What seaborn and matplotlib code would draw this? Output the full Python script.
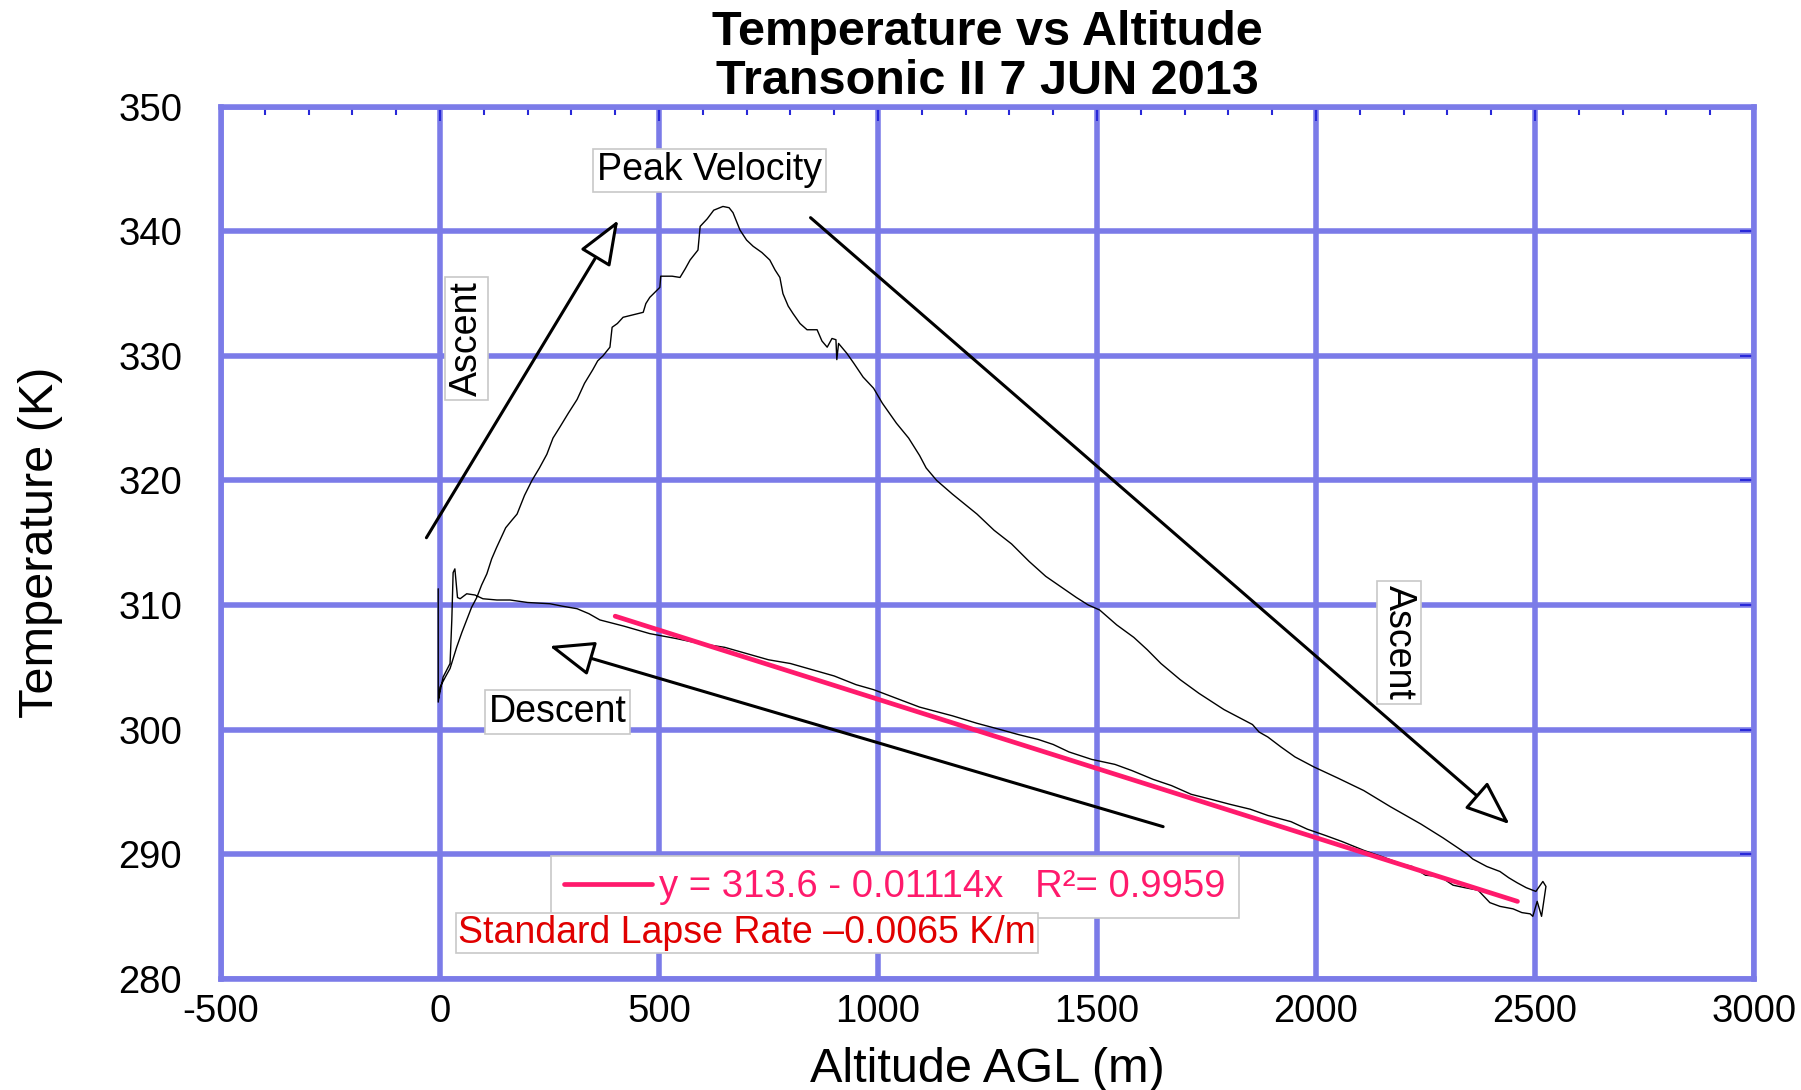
import numpy as np
import pandas as pd
import seaborn as sns
import matplotlib
matplotlib.use('Agg')
import matplotlib.pyplot as plt
from matplotlib.ticker import MultipleLocator, NullLocator

# flight trace: ascent, peak, climb to apogee, then descent
alt = [-4, -4, 0, 12, 23, 38, 50, 61, 72, 84, 95, 107, 118, 129, 150, 164, 176, 193,
       210, 227, 244, 258, 274, 293, 313, 330, 349, 360, 372, 388, 393, 405, 418, 441,
       464, 470, 479, 502, 504, 530, 548, 560, 571, 589, 594, 610, 625, 646, 660, 669,
       685, 700, 715, 735, 753, 765, 776, 783, 795, 806, 822, 838, 861, 872, 884, 895,
       904, 906, 910, 929, 945, 966, 990, 1010, 1042, 1070, 1095, 1110, 1134, 1170,
       1226, 1265, 1305, 1345, 1383, 1420, 1453, 1480, 1506, 1545, 1584, 1615, 1646,
       1690, 1733, 1790, 1855, 1870, 1890, 1920, 1952, 1995, 2050, 2109, 2170, 2240,
       2290, 2345, 2358, 2390, 2420, 2440, 2459, 2480, 2502, 2518, 2525, 2515, 2505,
       2495, 2489,
       2470, 2450, 2420, 2397, 2370, 2340, 2313, 2283, 2250, 2220, 2196, 2150, 2109,
       2060, 2021, 1980, 1943, 1890, 1850, 1803, 1760, 1715, 1670, 1628, 1580, 1541,
       1488, 1436, 1400, 1366, 1320, 1279, 1226, 1170, 1095, 1050, 990, 950, 900, 850,
       800, 750, 700, 650, 594, 540, 479, 420, 365, 340, 313, 280, 251, 200, 160, 130,
       98, 80, 61, 46, 40, 34, 30, 27, 23, 7, -3]
temp = [311.3, 302.2, 303.4, 304.2, 304.9, 306.6, 307.8, 308.8, 309.8, 310.6, 311.6,
        312.5, 313.7, 314.6, 316.2, 316.8, 317.3, 318.8, 320.0, 321.0, 322.1, 323.4,
        324.3, 325.4, 326.5, 327.8, 328.9, 329.6, 330.0, 330.7, 332.3, 332.6, 333.1,
        333.3, 333.5, 334.2, 334.7, 335.5, 336.4, 336.4, 336.3, 337.0, 337.7, 338.5,
        340.4, 341.0, 341.7, 342.0, 341.9, 341.5, 340.1, 339.3, 338.8, 338.3, 337.7,
        336.9, 336.3, 335.0, 334.0, 333.4, 332.6, 332.1, 332.1, 331.2, 330.7, 331.4,
        331.3, 329.7, 331.0, 330.2, 329.4, 328.3, 327.4, 326.2, 324.6, 323.4, 322.0,
        321.0, 320.0, 318.9, 317.3, 316.0, 314.9, 313.5, 312.3, 311.4, 310.6, 310.0,
        309.6, 308.4, 307.4, 306.4, 305.3, 304.0, 302.9, 301.6, 300.4, 299.8, 299.4,
        298.6, 297.8, 297.0, 296.1, 295.1, 293.8, 292.4, 291.3, 290.0, 289.6, 289.0,
        288.6, 288.1, 287.7, 287.3, 287.0, 287.8, 287.4, 285.0, 286.2, 285.0, 285.2,
        285.3, 285.6, 285.8, 286.1, 287.1, 287.3, 287.5, 288.2, 288.3, 289.0, 289.2,
        289.8, 290.3, 291.0, 291.5, 292.0, 292.6, 293.1, 293.6, 294.0, 294.4, 294.8,
        295.5, 296.0, 296.7, 297.2, 297.6, 298.2, 298.8, 299.2, 299.6, 300.0, 300.5,
        301.1, 301.8, 302.4, 303.2, 303.6, 304.3, 304.8, 305.3, 305.6, 306.1, 306.6,
        306.9, 307.3, 307.7, 308.3, 308.8, 309.3, 309.7, 309.9, 310.1, 310.2, 310.4,
        310.4, 310.5, 310.8, 310.9, 310.5, 310.6, 312.9, 312.6, 308.8, 305.3, 304.2,
        302.5]

# descent fit line ends
fit_alt = [400, 2460]
fit_temp = [309.1, 286.2]
fit_label = 'y = 313.6 - 0.01114x   R\u00b2= 0.9959'
lapse_label = 'Standard Lapse Rate \u20130.0065 K/m'

# arrows: (tail, head)
arrows = [((-31, 315.4), (407, 340.9)),
          ((1651, 292.2), (250, 306.7)),
          ((846, 341.1), (2442, 292.4))]

# boxed labels: text, x, y, rotation
labels = [('Peak Velocity', 615, 344.9, 0),
          ('Ascent', 61, 331.4, 90),
          ('Ascent', 2189, 307.0, 270),
          ('Descent', 269, 301.4, 0)]

sns.set_theme(style='white')
plt.rcParams['font.family'] = ['Liberation Sans', 'DejaVu Sans']
plt.rcParams['text.color'] = 'black'
plt.rcParams['axes.labelcolor'] = 'black'
plt.rcParams['axes.unicode_minus'] = False

gridc = '#7b7be8'
tickc = '#2828d8'
pink = '#ff1a6c'

fig = plt.figure(figsize=(18.01, 10.90), dpi=100)
ax = fig.add_axes([0.1227, 0.1022, 0.8512, 0.7998])

df = pd.DataFrame({'alt': alt, 'temp': temp})
sns.lineplot(data=df, x='alt', y='temp', sort=False, estimator=None,
             color='black', lw=1.0, ax=ax)
fit = pd.DataFrame({'alt': fit_alt, 'temp': fit_temp})
sns.lineplot(data=fit, x='alt', y='temp', color=pink, lw=3.4, ax=ax, label=fit_label)

for tail, head in arrows:
    ax.annotate('', xy=head, xytext=tail,
                arrowprops=dict(arrowstyle='-|>,head_length=1.4,head_width=0.55',
                                mutation_scale=20, fc='white', ec='black', lw=2.2,
                                shrinkA=0, shrinkB=0))

for txt, x, y, rot in labels:
    ax.text(x, y, txt, fontsize=27, rotation=rot, ha='center', va='center',
            bbox=dict(boxstyle='square,pad=0.1', fc='white', ec='#c8c8c8', lw=1.2),
            zorder=6)

ax.text(701, 283.65, lapse_label, color='#e00000', fontsize=27, ha='center', va='center',
        bbox=dict(boxstyle='square,pad=0.05', fc='white', ec='#c8c8c8', lw=1.2), zorder=6)

leg = ax.legend(loc='upper left', bbox_to_anchor=(0.215, 0.141), borderaxespad=0,
                frameon=True, fancybox=False, edgecolor='#c8c8c8', framealpha=1,
                fontsize=27.5, handlelength=2.3, handletextpad=0.2, labelcolor=pink,
                borderpad=0.35)
leg.get_frame().set_linewidth(1.2)

ax.set_xlim(-500, 3000)
ax.set_ylim(280, 350)
ax.xaxis.set_major_locator(MultipleLocator(500))
ax.xaxis.set_minor_locator(MultipleLocator(100))
ax.yaxis.set_major_locator(MultipleLocator(10))
ax.yaxis.set_minor_locator(NullLocator())

ax.grid(True, which='major', color=gridc, lw=4)
for s in ax.spines.values():
    s.set_color(gridc)
    s.set_linewidth(4)

ax.tick_params(which='both', direction='in', top=True, right=True, color=tickc,
               labelcolor='black', labelsize=27.5)
ax.tick_params(which='major', length=10, width=1.5)
ax.tick_params(which='minor', length=6, width=1.5)
ax.tick_params(axis='y', pad=28)
ax.tick_params(axis='x', pad=11)

ax.set_xlabel('Altitude AGL (m)', fontsize=35, labelpad=12)
ax.set_ylabel('Temperature (K)', fontsize=35, labelpad=40)
ax.set_title('Temperature vs Altitude\nTransonic II 7 JUN 2013', fontsize=35,
             fontweight='bold', linespacing=1.12, pad=9, color='black')

fig.savefig('out.png', dpi=100)
